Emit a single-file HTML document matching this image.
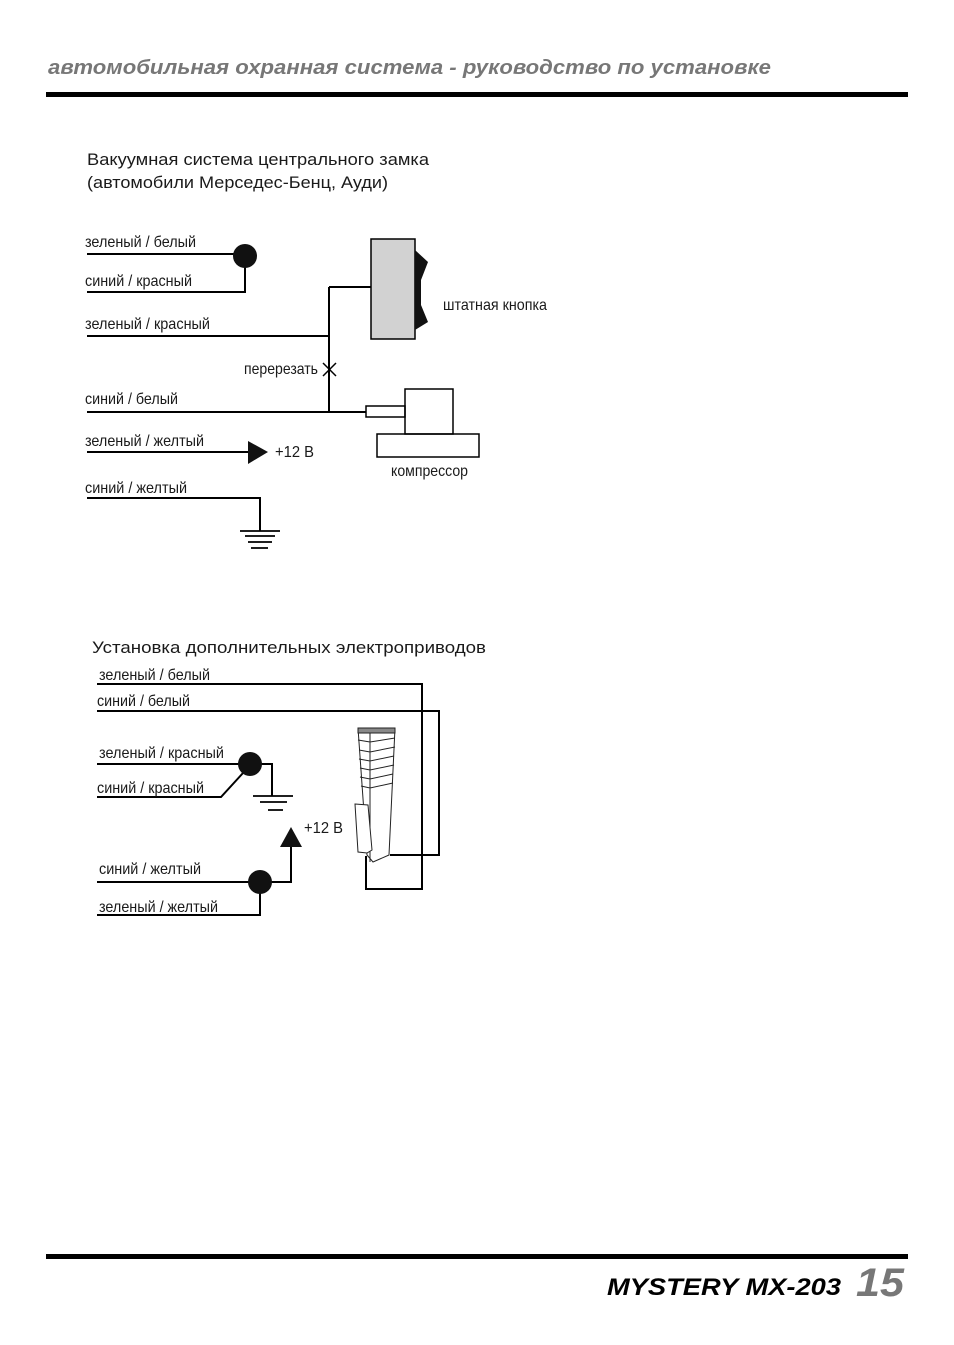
<!DOCTYPE html>
<html><head><meta charset="utf-8"><style>
html,body{margin:0;padding:0;background:#fff;}
svg{display:block;}
text{font-family:"Liberation Sans",sans-serif;}
.l{font-size:16px;fill:#1a1a1a;}
</style></head><body>
<svg width="954" height="1345" viewBox="0 0 954 1345" xmlns="http://www.w3.org/2000/svg">
<text x="48" y="74" font-size="20" font-weight="bold" font-style="italic" fill="#777" textLength="723" lengthAdjust="spacingAndGlyphs">автомобильная охранная система - руководство по установке</text>
<rect x="46" y="92" width="862" height="5" fill="#000"/>
<text x="87" y="165" font-size="17" fill="#1a1a1a" textLength="342" lengthAdjust="spacingAndGlyphs">Вакуумная система центрального замка</text>
<text x="87" y="188" font-size="17" fill="#1a1a1a" textLength="301" lengthAdjust="spacingAndGlyphs">(автомобили Мерседес-Бенц, Ауди)</text>

<g stroke="#000" stroke-width="2" fill="none">
<path d="M87 254H245M87 292H245V258M87 336H329M329 287V412M329 287H371M87 412H366M87 452H250M87 498H260V531"/>
<path d="M240 531H280M245 536H275M248 542H272M251 548H268" stroke-width="1.8"/>
<path d="M323 363L336 376M336 363L323 376" stroke-width="1.5"/>
<rect x="371" y="239" width="44" height="100" fill="#d2d2d2" stroke-width="1.5"/>
<rect x="366" y="406" width="39" height="11" stroke-width="1.5"/>
<rect x="405" y="389" width="48" height="45" stroke-width="1.5"/>
<rect x="377" y="434" width="102" height="23" stroke-width="1.5"/>
</g>
<circle cx="245" cy="256" r="12" fill="#111"/>
<polygon points="415,250 428,262 421,280 421,305 428,322 415,330" fill="#111"/>
<polygon points="248,441 268,452 248,464" fill="#111"/>
<text class="l" x="85" y="247" textLength="111" lengthAdjust="spacingAndGlyphs">зеленый / белый</text>
<text class="l" x="85" y="286" textLength="107" lengthAdjust="spacingAndGlyphs">синий / красный</text>
<text class="l" x="85" y="329" textLength="125" lengthAdjust="spacingAndGlyphs">зеленый / красный</text>
<text class="l" x="244" y="374" textLength="74" lengthAdjust="spacingAndGlyphs">перерезать</text>
<text class="l" x="85" y="404" textLength="93" lengthAdjust="spacingAndGlyphs">синий / белый</text>
<text class="l" x="85" y="446" textLength="119" lengthAdjust="spacingAndGlyphs">зеленый / желтый</text>
<text class="l" x="85" y="493" textLength="102" lengthAdjust="spacingAndGlyphs">синий / желтый</text>
<text class="l" x="275" y="457" textLength="39" lengthAdjust="spacingAndGlyphs">+12 В</text>
<text class="l" x="443" y="310" textLength="104" lengthAdjust="spacingAndGlyphs">штатная кнопка</text>
<text class="l" x="391" y="476" textLength="77" lengthAdjust="spacingAndGlyphs">компрессор</text>

<text x="92" y="653" font-size="17" fill="#1a1a1a" textLength="394" lengthAdjust="spacingAndGlyphs">Установка дополнительных электроприводов</text>
<g stroke="#000" stroke-width="2" fill="none">
<path d="M97 684H422V889H366V856M97 711H439V855H390"/>
<path d="M97 764H272V796M97 797H221L243 773"/>
<path d="M253 796H293M260 802H287M268 810H283" stroke-width="1.8"/>
<path d="M97 882H291V845M97 915H260V885"/>
</g>
<circle cx="250" cy="764" r="12" fill="#111"/>
<circle cx="260" cy="882" r="12" fill="#111"/>
<polygon points="291,827 302,847 280,847" fill="#111"/>
<g stroke="#222" stroke-width="1" fill="#fff">
<polygon points="358,728 395,728 389,855 373,862 367,855"/>
<polygon points="358,728 395,728 395,733 358,733" fill="#888"/>
<path d="M358 740L370 742L395 738M359 750L370 752L395 747M359 759L370 761L394 756M360 768L370 770L394 765M360 777L370 779L393 774M361 786L370 788L393 783M370 733V862" fill="none"/>
<polygon points="355,804 368,805 372,850 367,853 358,852" fill="#fff"/>
</g>
<text class="l" x="99" y="680" textLength="111" lengthAdjust="spacingAndGlyphs">зеленый / белый</text>
<text class="l" x="97" y="706" textLength="93" lengthAdjust="spacingAndGlyphs">синий / белый</text>
<text class="l" x="99" y="758" textLength="125" lengthAdjust="spacingAndGlyphs">зеленый / красный</text>
<text class="l" x="97" y="793" textLength="107" lengthAdjust="spacingAndGlyphs">синий / красный</text>
<text class="l" x="304" y="833" textLength="39" lengthAdjust="spacingAndGlyphs">+12 В</text>
<text class="l" x="99" y="874" textLength="102" lengthAdjust="spacingAndGlyphs">синий / желтый</text>
<text class="l" x="99" y="912" textLength="119" lengthAdjust="spacingAndGlyphs">зеленый / желтый</text>

<rect x="46" y="1254" width="862" height="5" fill="#000"/>
<text x="607" y="1295" font-size="24" font-weight="bold" font-style="italic" fill="#000" textLength="234" lengthAdjust="spacingAndGlyphs">MYSTERY MX-203</text>
<text x="856" y="1296" font-size="40" font-weight="bold" font-style="italic" fill="#777" textLength="48" lengthAdjust="spacingAndGlyphs">15</text>
</svg>
</body></html>
